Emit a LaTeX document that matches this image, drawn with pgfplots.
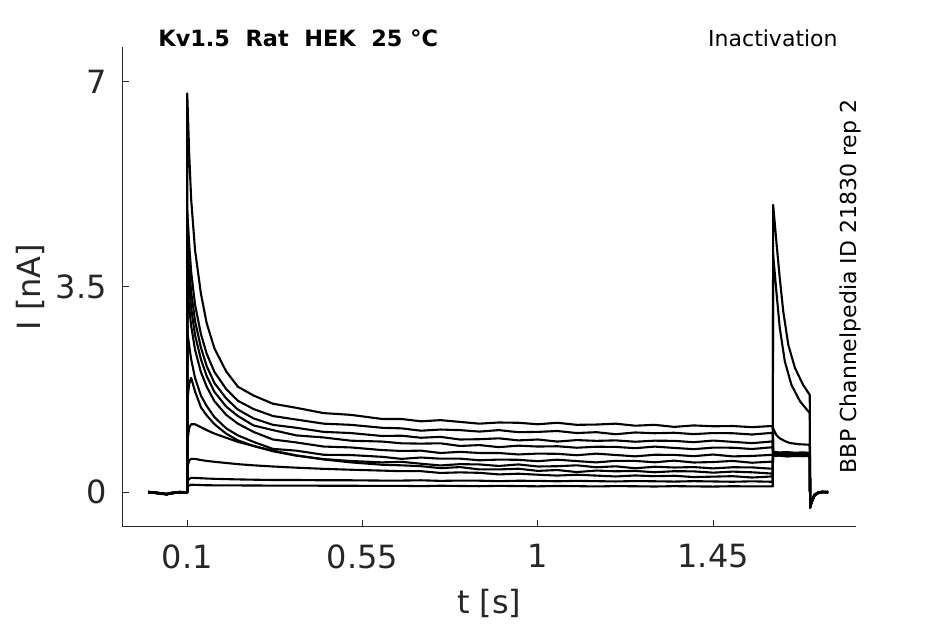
\documentclass[border=0pt]{standalone}
\usepackage{fontspec}
\setmainfont{DejaVu Sans}
\usepackage{pgfplots}
\pgfplotsset{compat=1.18}
\definecolor{axgray}{HTML}{262626}
\begin{document}
\begin{tikzpicture}[x=1pt,y=1pt]
\path[use as bounding box] (0,0) rectangle (472.5,312);
\begin{axis}[
 at={(61.15pt,48.65pt)}, anchor=south west,
 scale only axis, width=366.85pt, height=239.85pt,
 xmin=-0.0667, xmax=1.8167, ymin=-0.586, ymax=7.59,
 axis x line=bottom, axis y line=left,
 axis line style={axgray, line width=0.5pt, -},
 tick align=inside, major tick length=3.5pt,
 tick style={axgray, line width=0.5pt},
 xtick={0.1,0.55,1,1.45}, xticklabels={0.1,0.55,1,1.45},
 ytick={0,3.5,7}, yticklabels={0,3.5,7},
 tick label style={font=\fontsize{16}{19}\selectfont, text=axgray},
 xticklabel style={yshift=-5.4pt},
 yticklabel style={xshift=-4.3pt},
 tr/.style={black, line width=1.05pt, line join=round, mark=none},
]
% T11
\addplot[tr] coordinates {(0,0.01) (0.02,-0.01) (0.035,-0.02) (0.047,-0.035) (0.06,-0.01) (0.08,0.0) (0.1,0.0)
(0.1,6.80) (0.105,5.78) (0.11,5.00) (0.12,4.13) (0.135,3.39) (0.15,2.88) (0.17,2.45) (0.2,2.06) (0.23,1.80) (0.27,1.65) (0.32,1.51) (0.38,1.44) (0.45,1.35) (0.52,1.32) (0.6,1.25)
(0.65,1.25) (0.7,1.21) (0.75,1.23) (0.8,1.20) (0.85,1.17) (0.9,1.19) (0.95,1.185) (1.0,1.16) (1.05,1.185) (1.1,1.15) (1.15,1.155) (1.2,1.17) (1.25,1.135) (1.3,1.15) (1.35,1.115) (1.4,1.14) (1.45,1.125) (1.5,1.13) (1.55,1.11) (1.6,1.13)
(1.603,1.12) (1.604,0.69) (1.62,0.68) (1.64,0.685) (1.66,0.675) (1.68,0.68) (1.698,0.675) (1.699,-0.25) (1.703,-0.16) (1.71,-0.05) (1.72,-0.01) (1.73,0.01) (1.745,0.0)};
% T10
\addplot[tr] coordinates {(0,0.0) (0.02,0.0) (0.035,-0.015) (0.047,-0.03) (0.06,-0.02) (0.08,0.01) (0.1,0.0)
(0.1,4.80) (0.105,4.23) (0.11,3.76) (0.12,3.20) (0.135,2.70) (0.15,2.36) (0.17,2.05) (0.2,1.76) (0.23,1.56) (0.27,1.42) (0.32,1.30) (0.38,1.24) (0.45,1.17) (0.52,1.15) (0.6,1.10)
(0.65,1.09) (0.7,1.05) (0.75,1.07) (0.8,1.06) (0.85,1.035) (0.9,1.06) (0.95,1.025) (1.0,1.03) (1.05,1.045) (1.1,1.01) (1.15,1.025) (1.2,0.99) (1.25,1.02) (1.3,1.007) (1.35,1.015) (1.4,0.992) (1.45,1.01) (1.5,1.007) (1.55,0.985) (1.6,1.013)
(1.603,1.0) (1.604,0.63) (1.62,0.635) (1.64,0.625) (1.66,0.63) (1.68,0.62) (1.698,0.63) (1.699,-0.24) (1.703,-0.15) (1.71,-0.045) (1.72,-0.005) (1.73,0.0) (1.745,0.01)};
% T9
\addplot[tr] coordinates {(0,-0.01) (0.02,-0.005) (0.035,-0.025) (0.047,-0.03) (0.06,-0.015) (0.08,0.0) (0.1,0.005)
(0.1,4.30) (0.105,3.82) (0.11,3.42) (0.12,2.92) (0.135,2.47) (0.15,2.15) (0.17,1.86) (0.2,1.60) (0.23,1.41) (0.27,1.26) (0.32,1.15) (0.38,1.10) (0.45,1.03) (0.52,1.01) (0.6,0.96)
(0.65,0.965) (0.7,0.93) (0.75,0.945) (0.8,0.90) (0.85,0.905) (0.9,0.92) (0.95,0.885) (1.0,0.90) (1.05,0.865) (1.1,0.89) (1.15,0.877) (1.2,0.885) (1.25,0.862) (1.3,0.88) (1.35,0.877) (1.4,0.854) (1.45,0.882) (1.5,0.86) (1.55,0.838) (1.6,0.866)
(1.603,0.86) (1.604,0.65) (1.62,0.64) (1.64,0.65) (1.66,0.645) (1.68,0.64) (1.698,0.645) (1.699,-0.26) (1.703,-0.17) (1.71,-0.05) (1.72,-0.015) (1.73,0.005) (1.745,-0.005)};
% T8
\addplot[tr] coordinates {(0,0.005) (0.02,-0.015) (0.035,-0.02) (0.047,-0.04) (0.06,-0.015) (0.08,-0.005) (0.1,0.0)
(0.1,3.90) (0.105,3.49) (0.11,3.14) (0.12,2.68) (0.135,2.27) (0.15,1.98) (0.17,1.71) (0.2,1.46) (0.23,1.30) (0.27,1.14) (0.32,1.06) (0.38,0.97) (0.45,0.935) (0.52,0.88) (0.6,0.865)
(0.65,0.835) (0.7,0.83) (0.75,0.835) (0.8,0.79) (0.85,0.805) (0.9,0.77) (0.95,0.795) (1.0,0.78) (1.05,0.785) (1.1,0.76) (1.15,0.777) (1.2,0.774) (1.25,0.752) (1.3,0.779) (1.35,0.757) (1.4,0.735) (1.45,0.762) (1.5,0.76) (1.55,0.738) (1.6,0.767)
(1.603,0.76) (1.604,0.68) (1.62,0.67) (1.64,0.675) (1.66,0.665) (1.68,0.67) (1.698,0.665) (1.699,-0.23) (1.703,-0.14) (1.71,-0.04) (1.72,0.0) (1.73,0.01) (1.745,0.0)};
% T7
\addplot[tr] coordinates {(0,0.0) (0.02,-0.01) (0.035,-0.03) (0.047,-0.025) (0.06,-0.01) (0.08,0.005) (0.1,-0.005)
(0.1,3.50) (0.105,3.15) (0.11,2.84) (0.12,2.43) (0.135,2.05) (0.15,1.80) (0.17,1.55) (0.2,1.32) (0.23,1.17) (0.27,1.03) (0.32,0.90) (0.38,0.85) (0.45,0.78) (0.52,0.765) (0.6,0.72)
(0.65,0.705) (0.7,0.71) (0.75,0.67) (0.8,0.69) (0.85,0.67) (0.9,0.67) (0.95,0.645) (1.0,0.66) (1.05,0.656) (1.1,0.632) (1.15,0.659) (1.2,0.636) (1.25,0.613) (1.3,0.64) (1.35,0.638) (1.4,0.616) (1.45,0.644) (1.5,0.612) (1.55,0.62) (1.6,0.638)
(1.603,0.63) (1.604,0.62) (1.62,0.625) (1.64,0.61) (1.66,0.62) (1.68,0.615) (1.698,0.62) (1.699,-0.27) (1.703,-0.17) (1.71,-0.06) (1.72,-0.01) (1.73,0.005) (1.745,0.005)};
% T6
\addplot[tr] coordinates {(0,0.01) (0.02,-0.005) (0.035,-0.02) (0.047,-0.035) (0.06,-0.005) (0.08,0.0) (0.1,0.005)
(0.1,2.75) (0.105,2.50) (0.11,2.27) (0.12,1.95) (0.135,1.65) (0.15,1.47) (0.17,1.28) (0.2,1.09) (0.23,0.97) (0.27,0.86) (0.32,0.74) (0.38,0.71) (0.45,0.64) (0.52,0.635) (0.6,0.605)
(0.65,0.57) (0.7,0.593) (0.75,0.573) (0.8,0.574) (0.85,0.546) (0.9,0.558) (0.95,0.554) (1.0,0.53) (1.05,0.556) (1.1,0.532) (1.15,0.51) (1.2,0.537) (1.25,0.535) (1.3,0.512) (1.35,0.54) (1.4,0.508) (1.45,0.516) (1.5,0.535) (1.55,0.504) (1.6,0.523)
(1.603,0.52) (1.604,0.67) (1.62,0.66) (1.64,0.655) (1.66,0.665) (1.68,0.65) (1.698,0.66) (1.699,-0.25) (1.703,-0.15) (1.71,-0.05) (1.72,-0.005) (1.73,0.01) (1.745,0.0)};
% T5
\addplot[tr] coordinates {(0,0.0) (0.02,-0.01) (0.035,-0.02) (0.047,-0.03) (0.06,-0.02) (0.08,0.0) (0.1,0.0)
(0.1,1.55) (0.105,1.85) (0.11,1.95) (0.12,1.72) (0.135,1.45) (0.15,1.31) (0.17,1.16) (0.2,1.00) (0.23,0.885) (0.27,0.79) (0.32,0.70) (0.38,0.624) (0.45,0.566) (0.52,0.534) (0.6,0.51)
(0.65,0.52) (0.7,0.487) (0.75,0.458) (0.8,0.48) (0.85,0.475) (0.9,0.449) (0.95,0.475) (1.0,0.44) (1.05,0.445) (1.1,0.46) (1.15,0.427) (1.2,0.443) (1.25,0.41) (1.3,0.436) (1.35,0.423) (1.4,0.43) (1.45,0.408) (1.5,0.427) (1.55,0.425) (1.6,0.402)
(1.603,0.41) (1.604,0.64) (1.62,0.63) (1.64,0.645) (1.66,0.63) (1.68,0.64) (1.698,0.635) (1.699,-0.24) (1.703,-0.16) (1.71,-0.05) (1.72,-0.01) (1.73,0.0) (1.745,0.005)};
% T4
\addplot[tr] coordinates {(0,0.005) (0.02,-0.01) (0.035,-0.025) (0.047,-0.03) (0.06,-0.01) (0.08,0.0) (0.1,0.0)
(0.1,0.85) (0.105,1.10) (0.11,1.16) (0.12,1.16) (0.135,1.11) (0.15,1.06) (0.17,1.00) (0.2,0.93) (0.23,0.86) (0.27,0.79) (0.32,0.71) (0.38,0.63) (0.45,0.56) (0.52,0.51) (0.6,0.47)
(0.65,0.46) (0.7,0.445) (0.75,0.412) (0.8,0.43) (0.85,0.39) (0.9,0.39) (0.95,0.402) (1.0,0.365) (1.05,0.38) (1.1,0.345) (1.15,0.371) (1.2,0.358) (1.25,0.365) (1.3,0.342) (1.35,0.36) (1.4,0.357) (1.45,0.335) (1.5,0.353) (1.55,0.341) (1.6,0.32)
(1.603,0.33) (1.604,0.66) (1.62,0.65) (1.64,0.66) (1.66,0.64) (1.68,0.65) (1.698,0.65) (1.699,-0.25) (1.703,-0.16) (1.71,-0.05) (1.72,-0.01) (1.73,0.0) (1.745,0.0)};
% T3
\addplot[tr] coordinates {(0,0.0) (0.02,-0.01) (0.035,-0.02) (0.047,-0.03) (0.06,-0.015) (0.08,0.0) (0.1,0.0)
(0.1,0.42) (0.105,0.54) (0.11,0.57) (0.12,0.57) (0.135,0.55) (0.15,0.535) (0.17,0.52) (0.2,0.50) (0.23,0.48) (0.27,0.46) (0.32,0.44) (0.38,0.42) (0.45,0.40) (0.52,0.385) (0.6,0.37)
(0.65,0.36) (0.7,0.36) (0.75,0.33) (0.8,0.34) (0.85,0.332) (0.9,0.305) (0.95,0.317) (1.0,0.30) (1.05,0.285) (1.1,0.30) (1.15,0.285) (1.2,0.27) (1.25,0.287) (1.3,0.275) (1.35,0.282) (1.4,0.26) (1.45,0.267) (1.5,0.275) (1.55,0.252) (1.6,0.27)
(1.603,0.26) (1.604,1.09) (1.612,0.98) (1.621,0.92) (1.635,0.87) (1.647,0.84) (1.67,0.82) (1.698,0.81) (1.699,-0.25) (1.703,-0.16) (1.71,-0.05) (1.72,-0.01) (1.73,0.005) (1.745,0.0)};
% T2
\addplot[tr] coordinates {(0,0.0) (0.02,-0.015) (0.035,-0.02) (0.047,-0.035) (0.06,-0.01) (0.08,0.005) (0.1,0.0)
(0.1,0.18) (0.105,0.23) (0.11,0.245) (0.12,0.245) (0.135,0.24) (0.15,0.235) (0.17,0.23) (0.2,0.225) (0.23,0.22) (0.27,0.215) (0.32,0.21) (0.38,0.21) (0.45,0.205) (0.52,0.205) (0.6,0.2)
(0.65,0.20) (0.7,0.205) (0.75,0.195) (0.8,0.2) (0.85,0.198) (0.9,0.19) (0.95,0.197) (1.0,0.195) (1.05,0.188) (1.1,0.195) (1.15,0.19) (1.2,0.185) (1.25,0.192) (1.3,0.188) (1.35,0.183) (1.4,0.19) (1.45,0.185) (1.5,0.18) (1.55,0.187) (1.6,0.18)
(1.603,0.18) (1.604,4.05) (1.613,3.37) (1.621,2.80) (1.634,2.23) (1.651,1.83) (1.673,1.55) (1.698,1.35) (1.699,-0.24) (1.703,-0.15) (1.71,-0.04) (1.72,0.0) (1.73,0.005) (1.745,0.01)};
% T1
\addplot[tr] coordinates {(0,0.005) (0.02,-0.01) (0.035,-0.025) (0.047,-0.03) (0.06,-0.01) (0.08,0.0) (0.1,0.0)
(0.1,0.10) (0.11,0.13) (0.15,0.12) (0.3,0.115) (0.6,0.11)
(0.65,0.11) (0.7,0.105) (0.75,0.112) (0.8,0.108) (0.85,0.104) (0.9,0.11) (0.95,0.106) (1.0,0.102) (1.05,0.108) (1.1,0.105) (1.15,0.1) (1.2,0.106) (1.25,0.103) (1.3,0.099) (1.35,0.105) (1.4,0.101) (1.45,0.098) (1.5,0.104) (1.55,0.1) (1.6,0.1)
(1.603,0.1) (1.604,4.90) (1.613,4.22) (1.621,3.65) (1.630,3.08) (1.643,2.51) (1.66,2.12) (1.681,1.83) (1.698,1.66) (1.699,-0.25) (1.703,-0.16) (1.71,-0.05) (1.72,-0.01) (1.73,0.01) (1.745,0.0)};
\end{axis}
\node[font=\fontsize{16}{19}\selectfont, text=axgray, anchor=center] at (244.6,10.5) {t [s]};
\node[font=\fontsize{16}{19}\selectfont, text=axgray, anchor=center, rotate=90] at (15,168.5) {I [nA]};
\node[anchor=base west, inner sep=0pt, font=\bfseries\fontsize{11.2}{13}\selectfont] at (79,288.6) {Kv1.5\ \ Rat\ \ HEK\ \ 25 °C};
\node[anchor=base east, inner sep=0pt, font=\fontsize{11}{13}\selectfont] at (419,288.6) {Inactivation};
\node[anchor=base, inner sep=0pt, rotate=90, font=\fontsize{11}{13}\selectfont] at (428,168.75) {BBP Channelpedia ID 21830 rep 2};
\end{tikzpicture}
\end{document}
